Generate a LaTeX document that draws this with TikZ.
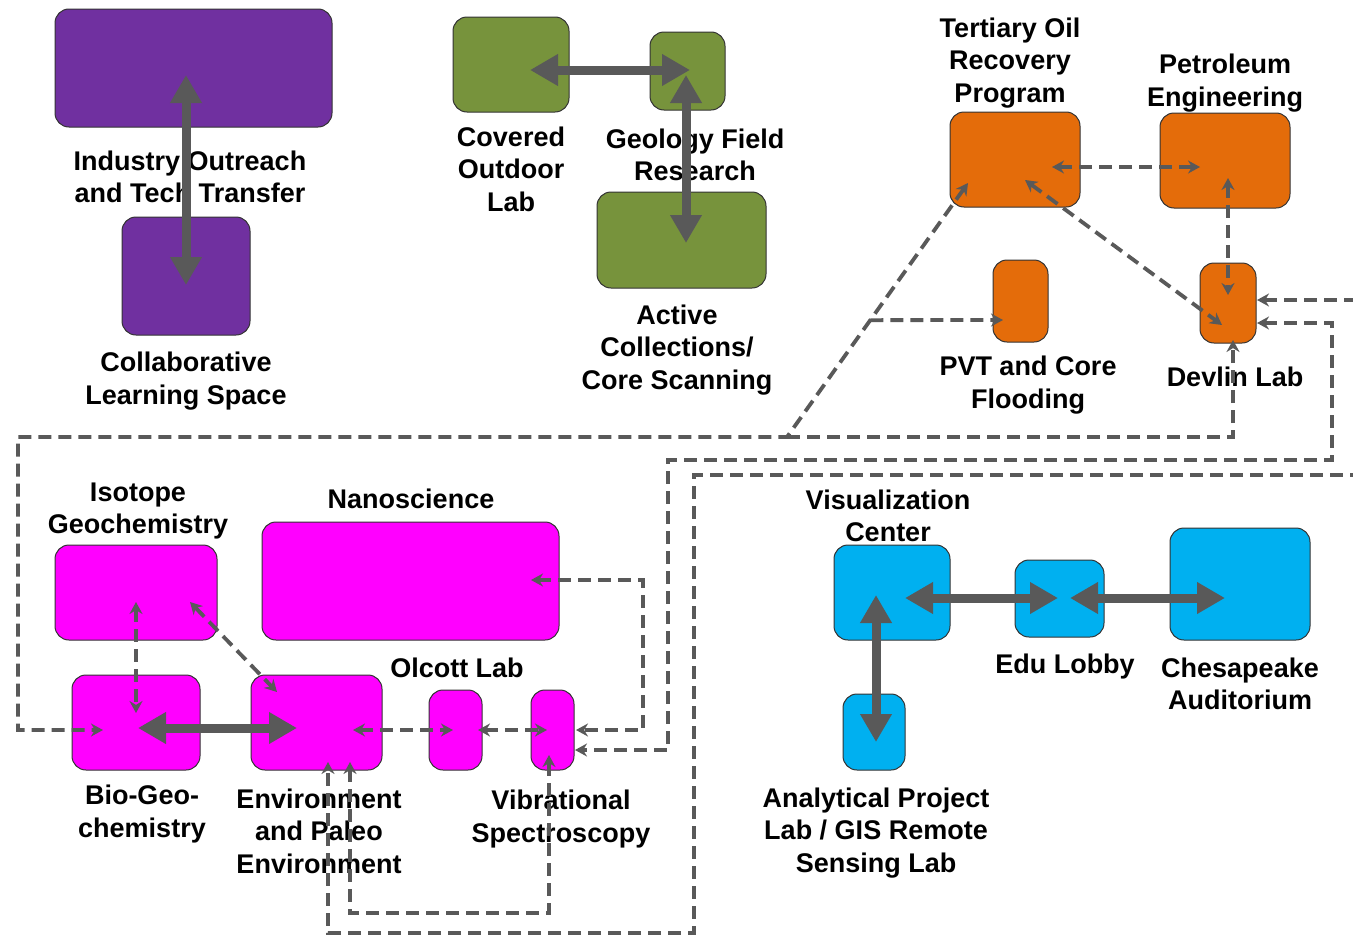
\documentclass[tikz,border=0pt]{standalone}
\usepackage{fontspec}
\setmainfont{Liberation Sans}
\usetikzlibrary{arrows.meta,calc}

\definecolor{labpurple}{HTML}{7030A0}
\definecolor{labgreen}{HTML}{77933C}
\definecolor{laborange}{HTML}{E46C0A}
\definecolor{labmagenta}{HTML}{FF00FF}
\definecolor{labblue}{HTML}{00B0F0}
\definecolor{linkgray}{HTML}{595959}

\begin{document}
\begin{tikzpicture}[x=0.5pt,y=-0.5pt,
    room/.style={draw=black!80, line width=0.5pt, rounded corners=7pt, fill=#1, inner sep=0pt},
    lbl/.style={font=\fontsize{13.5}{16.25}\selectfont\bfseries, align=center, inner sep=0pt},
    bigarrow/.style={draw=linkgray, line width=4.5pt, {Triangle[width=15pt,length=14pt]}-{Triangle[width=15pt,length=14pt]}},
    dashlink/.style={draw=linkgray, line width=1.9pt, dash pattern=on 6.5pt off 3.5pt},
    >={Stealth[length=6pt,width=6.5pt]}]
    \useasboundingbox (0,0) rectangle (1353,937);

    % Outreach rooms
    \node[room=labpurple, minimum width=138.5pt, minimum height=59pt] (ind) at (193.5,68) {};
    \node[room=labpurple, minimum width=64pt, minimum height=59pt] (col) at (186,276) {};
    \node[lbl] (lind) at (190,177) {Industry Outreach\\and Tech Transfer};
    \node[lbl] (lcol) at (186,381) {Collaborative\\Learning Space};

    % Field geology rooms
    \node[room=labgreen, minimum width=58pt, minimum height=47.5pt] (cov) at (511,64.5) {};
    \node[room=labgreen, minimum width=37.5pt, minimum height=39pt] (geo) at (687.5,71) {};
    \node[room=labgreen, minimum width=84.5pt, minimum height=48pt] (act) at (681.5,240) {};
    \node[lbl] (lcov) at (511,169) {Covered\\Outdoor\\Lab};
    \node[lbl] (lgeo) at (695,155) {Geology Field\\Research};
    \node[lbl] (lact) at (677,350) {Active\\Collections/\\Core Scanning};

    % Petroleum rooms
    \node[room=laborange, minimum width=65pt, minimum height=47.5pt] (tert) at (1015,159.5) {};
    \node[room=laborange, minimum width=65pt, minimum height=47.5pt] (pet) at (1225,160.5) {};
    \node[room=laborange, minimum width=27.5pt, minimum height=41pt] (pvt) at (1020.5,301) {};
    \node[room=laborange, minimum width=28pt, minimum height=40pt] (dev) at (1228,303) {};
    \node[lbl] (ltert) at (1010,63) {Tertiary Oil\\Recovery\\Program};
    \node[lbl] (lpet) at (1225,83) {Petroleum\\Engineering};
    \node[lbl] (lpvt) at (1028,385) {PVT and Core\\Flooding};
    \node[lbl] (ldev) at (1235,377) {Devlin Lab};

    % Geochemistry rooms
    \node[room=labmagenta, minimum width=81pt, minimum height=47.5pt] (iso) at (136,592.5) {};
    \node[room=labmagenta, minimum width=148.5pt, minimum height=59pt] (nano) at (410.5,581) {};
    \node[room=labmagenta, minimum width=64pt, minimum height=47.5pt] (bio) at (136,722.5) {};
    \node[room=labmagenta, minimum width=65.5pt, minimum height=47.5pt] (env) at (316.5,722.5) {};
    \node[room=labmagenta, minimum width=26.5pt, minimum height=40pt] (olc) at (455.5,730) {};
    \node[room=labmagenta, minimum width=21.5pt, minimum height=40pt] (vib) at (552.5,730) {};
    \node[lbl] (liso) at (138,511) {Isotope\\Geochemistry};
    \node[lbl] (lnano) at (411,499) {Nanoscience};
    \node[lbl] (lolc) at (457,668) {Olcott Lab};
    \node[lbl] (lbio) at (142,814) {Bio-Geo-\\chemistry};
    \node[lbl] (lenv) at (319,831) {Environment\\and Paleo\\Environment};
    \node[lbl] (lvib) at (561,819) {Vibrational\\Spectroscopy};

    % Visualization rooms
    \node[room=labblue, minimum width=58pt, minimum height=47.5pt] (vis) at (892,592.5) {};
    \node[room=labblue, minimum width=44.5pt, minimum height=38.5pt] (edu) at (1059.5,598.5) {};
    \node[room=labblue, minimum width=70pt, minimum height=56pt] (che) at (1240,584) {};
    \node[room=labblue, minimum width=31pt, minimum height=38pt] (ana) at (874,732) {};
    \node[lbl] (lvis) at (888,516) {Visualization\\Center};
    \node[lbl] (ledu) at (1065,667) {Edu Lobby};
    \node[lbl] (lche) at (1240,684) {Chesapeake\\Auditorium};
    \node[lbl] (lana) at (876,833) {Analytical Project\\Lab / GIS Remote\\Sensing Lab};

    % Direct links
    \draw[bigarrow] ($(ind)+(-7.5,7)$) -- ($(col)+(0,9)$);
    \draw[bigarrow] ($(cov)+(19,5.5)$) -- ($(geo)+(2.5,-1)$);
    \draw[bigarrow] ($(geo)+(-1.5,4)$) -- ($(act)+(4.5,3)$);
    \draw[bigarrow] ($(bio)+(2,5.5)$) -- ($(env)+(-19.5,5.5)$);
    \draw[bigarrow] ($(vis)+(13,5.5)$) -- ($(edu)+(-1.5,-0.5)$);
    \draw[bigarrow] ($(edu)+(10.5,-0.5)$) -- ($(che)+(-15,14)$);
    \draw[bigarrow] ($(vis)+(-16,2.5)$) -- ($(ana)+(2,10)$);

    % Petroleum links
    \draw[dashlink,<->] ($(tert)+(37,7.5)$) -- ($(pet)+(-25,6.5)$);
    \draw[dashlink,<->] ($(pet)+(3,17.5)$) -- ($(dev)+(0,-8)$);
    \draw[dashlink,<->] ($(tert)+(10,20.5)$) -- ($(dev)+(-6,22)$);

    % Long links
    \coordinate (tq) at ($(tert)+(-47,23.5)$);
    \coordinate (jA) at (787,437);
    \coordinate (jB) at ($(jA)!0.46!(tq)$);
    \draw[dashlink,<->] (tq) -- (jA) -| (18,730) -- ($(bio)+(-33,7.5)$);
    \draw[dashlink,->] (jA) -| ($(dev)+(5,37)$);
    \draw[dashlink,->] (jB) -- ($(pvt)+(-17.5,19)$);
    \draw[dashlink,<->] ($(dev)+(29,20)$) -| (1332,460) -| (668,750) -- ($(vib)+(22.5,20)$);
    \draw[dashlink,<->] ($(dev)+(29,-3)$) -| (1356,475) -| (694,933) -| ($(env)+(11.5,39.5)$);

    % Geochemistry links
    \draw[dashlink,<->] ($(env)+(33.5,39.5)$) -- ++(0,151) -| ($(vib)+(-3.5,25)$);
    \draw[dashlink,<->] ($(nano)+(120.5,-1)$) -- ++(112,0) |- ($(vib)+(23.5,0)$);
    \draw[dashlink,<->] ($(iso)+(0,9.5)$) -- ($(bio)+(0,-9.5)$);
    \draw[dashlink,<->] ($(iso)+(54,9.5)$) -- ($(env)+(-39.5,-30.5)$);
    \draw[dashlink,<->] ($(env)+(36.5,7.5)$) -- ($(olc)+(-2.5,0)$);
    \draw[dashlink,<->] ($(olc)+(22.5,0)$) -- ($(vib)+(-5.5,0)$);
\end{tikzpicture}
\end{document}
